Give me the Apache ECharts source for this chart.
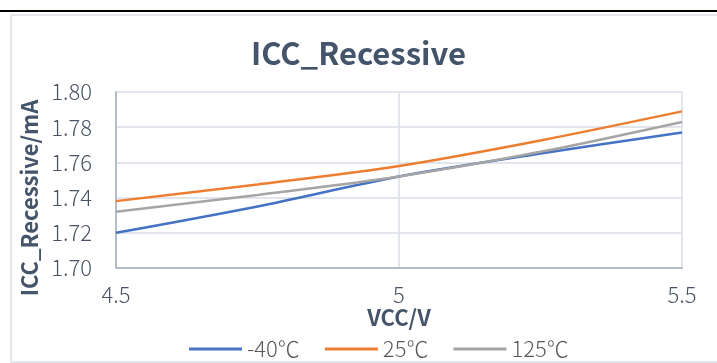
<!DOCTYPE html>
<html>
<head>
<meta charset="utf-8">
<script src="https://cdn.jsdelivr.net/npm/echarts@6/dist/echarts.min.js"></script>
<style>
html,body{margin:0;padding:0;background:#fff;}
#chart{width:717px;height:363px;}
</style>
</head>
<body>
<div id="chart"></div>
<script>
var vcc = [4.5, 4.75, 5, 5.25, 5.5];
var seriesNames = ['-40℃', '25℃', '125℃'];
var valuesM40 = [1.720, 1.735, 1.752, 1.765, 1.777];
var values25 = [1.738, 1.7475, 1.758, 1.7725, 1.789];
var values125 = [1.732, 1.7415, 1.752, 1.766, 1.783];
var colors = ['#4472C4', '#ED7D31', '#A5A5A5'];

function pairs(xs, ys) { return xs.map(function (x, i) { return [x, ys[i]]; }); }

var font = 'Noto Sans CJK SC';
var textColor = '#4a5464';
var chart = echarts.init(document.getElementById('chart'));
var allValues = [valuesM40, values25, values125];
chart.setOption({
  animation: false,
  title: {
    text: 'ICC_Recessive', left: 'center', top: 33,
    textStyle: { fontFamily: font, fontWeight: 'bold', fontSize: 31, color: '#44546A' }
  },
  grid: { left: 116, right: 35, top: 92, bottom: 95 },
  legend: {
    bottom: -2, left: 184, itemWidth: 53, itemHeight: 3, itemGap: 25,
    icon: 'rect',
    textStyle: { fontFamily: font, fontSize: 22, fontWeight: 300, color: '#595959' },
    data: seriesNames
  },
  xAxis: {
    type: 'value', min: 4.5, max: 5.5, interval: 0.5,
    name: 'VCC/V', nameLocation: 'middle', nameGap: 31,
    nameTextStyle: { fontFamily: font, fontWeight: 'bold', fontSize: 22, color: '#44546A' },
    axisLine: { show: true, lineStyle: { color: '#b4bdca', width: 2 } },
    axisTick: { show: false },
    splitLine: { show: true, lineStyle: { color: '#e2e6ec', width: 2 } },
    axisLabel: { fontFamily: font, fontSize: 22, fontWeight: 300, color: textColor, margin: 16,
      formatter: function (v) { return String(v); } }
  },
  yAxis: {
    type: 'value', min: 1.70, max: 1.80, interval: 0.02,
    name: 'ICC_Recessive/mA', nameLocation: 'middle', nameGap: 64,
    nameTextStyle: { fontFamily: font, fontWeight: 'bold', fontSize: 22, color: '#44546A', padding: [0, 36, 0, 0] },
    axisLine: { show: true, lineStyle: { color: '#b4bdca', width: 2 } },
    axisTick: { show: false },
    splitLine: { show: true, lineStyle: { color: '#e2e6ec', width: 2 } },
    axisLabel: { fontFamily: font, fontSize: 22, fontWeight: 300, color: textColor, margin: 24,
      formatter: function (v) { return v.toFixed(2); } }
  },
  series: seriesNames.map(function (n, i) {
    return {
      name: n, type: 'line', smooth: 0.3, showSymbol: false,
      data: pairs(vcc, allValues[i]),
      lineStyle: { color: colors[i], width: 2.5 },
      itemStyle: { color: colors[i] }
    };
  }),
  graphic: [
    { type: 'rect', shape: { x: 11, y: 15, width: 720, height: 347 }, style: { fill: 'none', stroke: '#e3e6ea', lineWidth: 2 }, z: -1 },
    { type: 'rect', shape: { x: 0, y: 10, width: 717, height: 2 }, style: { fill: '#000' } }
  ]
});
</script>
</body>
</html>
